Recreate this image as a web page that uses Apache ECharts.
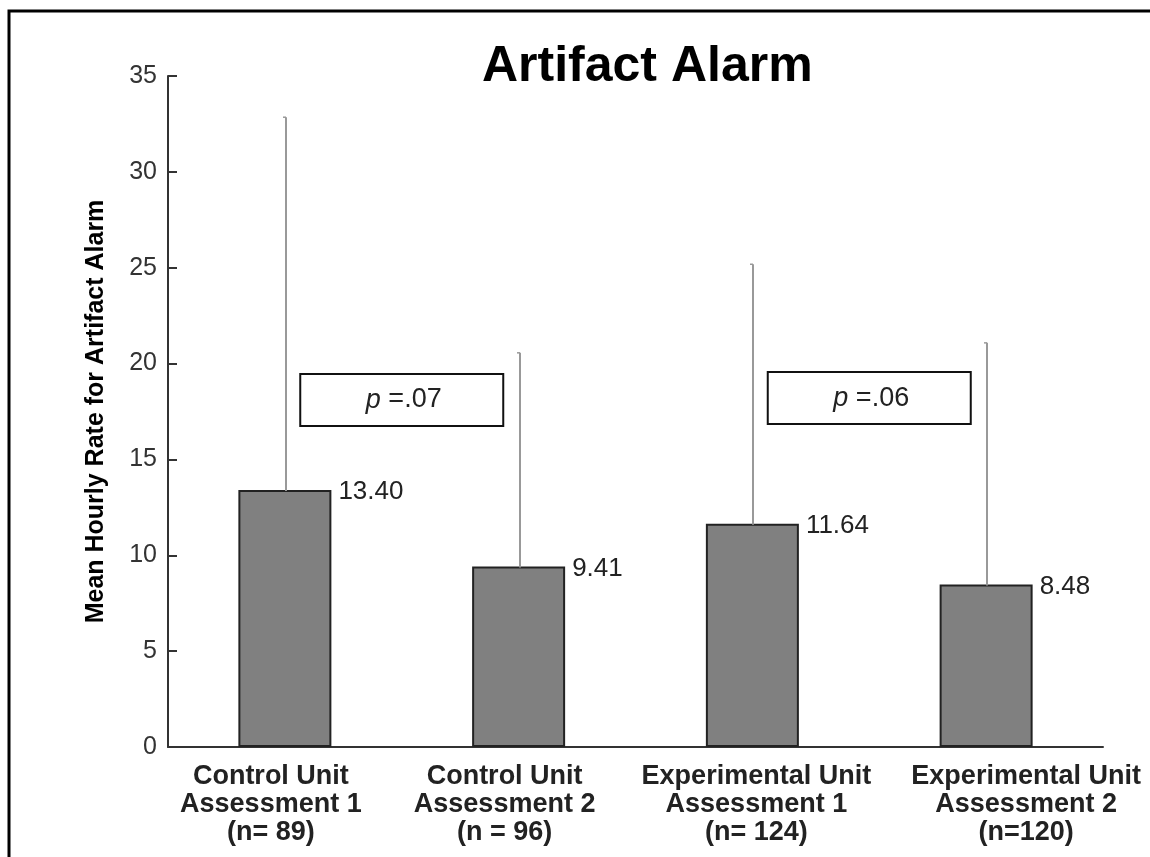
<!DOCTYPE html>
<html>
<head>
<meta charset="utf-8">
<script src="https://cdn.jsdelivr.net/npm/echarts@6/dist/echarts.min.js"></script>
<style>
  html, body { margin: 0; padding: 0; background: #fff; }
  #chart { width: 1150px; height: 857px; }
</style>
</head>
<body>
<div id="chart"></div>
<script>
// ---- data ----
const categories = [
  'Control Unit\nAssessment 1\n(n= 89)',
  'Control Unit\nAssessment 2\n(n = 96)',
  'Experimental Unit\nAssessment 1\n(n= 124)',
  'Experimental Unit\nAssessment 2\n(n=120)'
];
const means = [13.40, 9.41, 11.64, 8.48];
const errorTops = [32.85, 20.56, 25.18, 21.08];
const valueLabels = ['13.40', '9.41', '11.64', '8.48'];
const pPairs = [[0, 1], [2, 3]];
const pValues = ['.07', '.06'];
const pLevels = [18.1, 18.2];
const yTicks = [0, 5, 10, 15, 20, 25, 30, 35];
const titleText = 'Artifact Alarm';
const yAxisTitle = 'Mean Hourly Rate for Artifact Alarm';

// ---- styling (label shifts in px, not data) ----
const labelShift = [-14, -14, 4, 40];
const FONT = "'Liberation Sans', Arial, Helvetica, sans-serif";

const chart = echarts.init(document.getElementById('chart'), null, { renderer: 'canvas' });

const rich = {};
labelShift.forEach((s, i) => {
  rich['c' + i] = {
    fontFamily: FONT, fontSize: 27, fontWeight: 'bold', color: '#222', lineHeight: 28,
    padding: s >= 0 ? [0, 0, 0, 2 * s] : [0, -2 * s, 0, 0]
  };
});

const option = {
  backgroundColor: '#fff',
  animation: false,
  title: {
    text: titleText,
    left: 477, top: 37,
    textStyle: { fontFamily: FONT, fontSize: 50, fontWeight: 'bold', color: '#000' }
  },
  graphic: [{
    type: 'rect', silent: true,
    shape: { x: 9, y: 11, width: 1300, height: 1000 },
    style: { fill: 'none', stroke: '#000', lineWidth: 3 }
  }],
  grid: { left: 168, right: 47, top: 76, bottom: 110, containLabel: false },
  xAxis: {
    type: 'category',
    data: categories,
    axisLine: { lineStyle: { color: '#333', width: 2 } },
    axisTick: { show: false },
    axisLabel: {
      margin: 16,
      interval: 0,
      formatter: (val, idx) => val.split('\n').map(l => '{c' + idx + '|' + l + '}').join('\n'),
      rich: rich
    }
  },
  yAxis: {
    type: 'value',
    min: yTicks[0], max: yTicks[yTicks.length - 1], interval: 5,
    name: yAxisTitle,
    nameLocation: 'middle',
    nameGap: 59,
    nameTextStyle: { fontFamily: FONT, fontSize: 25, fontWeight: 'bold', color: '#000' },
    axisLine: { show: true, lineStyle: { color: '#333', width: 2 } },
    axisTick: { show: true, inside: true, length: 9, lineStyle: { color: '#333', width: 2 } },
    axisLabel: { fontFamily: FONT, fontSize: 25, color: '#333', margin: 11 },
    splitLine: { show: false }
  },
  series: [
    {
      type: 'bar',
      data: means,
      barWidth: 93,
      itemStyle: { color: '#808080', borderColor: '#222', borderWidth: 2 },
      label: {
        show: true,
        position: [100, 2],
        align: 'left',
        verticalAlign: 'middle',
        fontFamily: FONT, fontSize: 26, color: '#222',
        formatter: p => valueLabels[p.dataIndex]
      },
      z: 2
    },
    {
      type: 'custom',
      data: means.map((m, i) => [i, m, errorTops[i]]),
      renderItem: (params, api) => {
        const i = api.value(0);
        const lo = api.coord([i, api.value(1)]);
        const hi = api.coord([i, api.value(2)]);
        const x = Math.round(lo[0]) + 1;
        return {
          type: 'group',
          children: [
            { type: 'line', shape: { x1: x, y1: lo[1] + 1, x2: x, y2: hi[1] },
              style: { stroke: '#999', lineWidth: 2 } },
            { type: 'line', shape: { x1: x - 3, y1: hi[1], x2: x, y2: hi[1] },
              style: { stroke: '#999', lineWidth: 1.5 } }
          ]
        };
      },
      z: 3
    },
    {
      type: 'custom',
      data: pPairs.map((pr, k) => [pr[0], pr[1], pLevels[k], k]),
      renderItem: (params, api) => {
        const a = api.coord([api.value(0), api.value(2)]);
        const b = api.coord([api.value(1), api.value(2)]);
        const cx = (a[0] + b[0]) / 2;
        const cy = a[1];
        const w = 203, h = 52;
        const k = api.value(3);
        return {
          type: 'group',
          children: [
            { type: 'rect', shape: { x: cx - w / 2, y: cy - h / 2, width: w, height: h },
              style: { fill: '#fff', stroke: '#111', lineWidth: 2 } },
            { type: 'text', x: cx + 2, y: cy,
              style: {
                text: '{i|p} =' + pValues[k],
                align: 'center', verticalAlign: 'middle',
                fontFamily: FONT, fontSize: 27, fill: '#222',
                rich: { i: { fontStyle: 'italic', fontFamily: FONT, fontSize: 27, color: '#222' } }
              } }
          ]
        };
      },
      z: 4
    }
  ]
};

chart.setOption(option);
</script>
</body>
</html>
